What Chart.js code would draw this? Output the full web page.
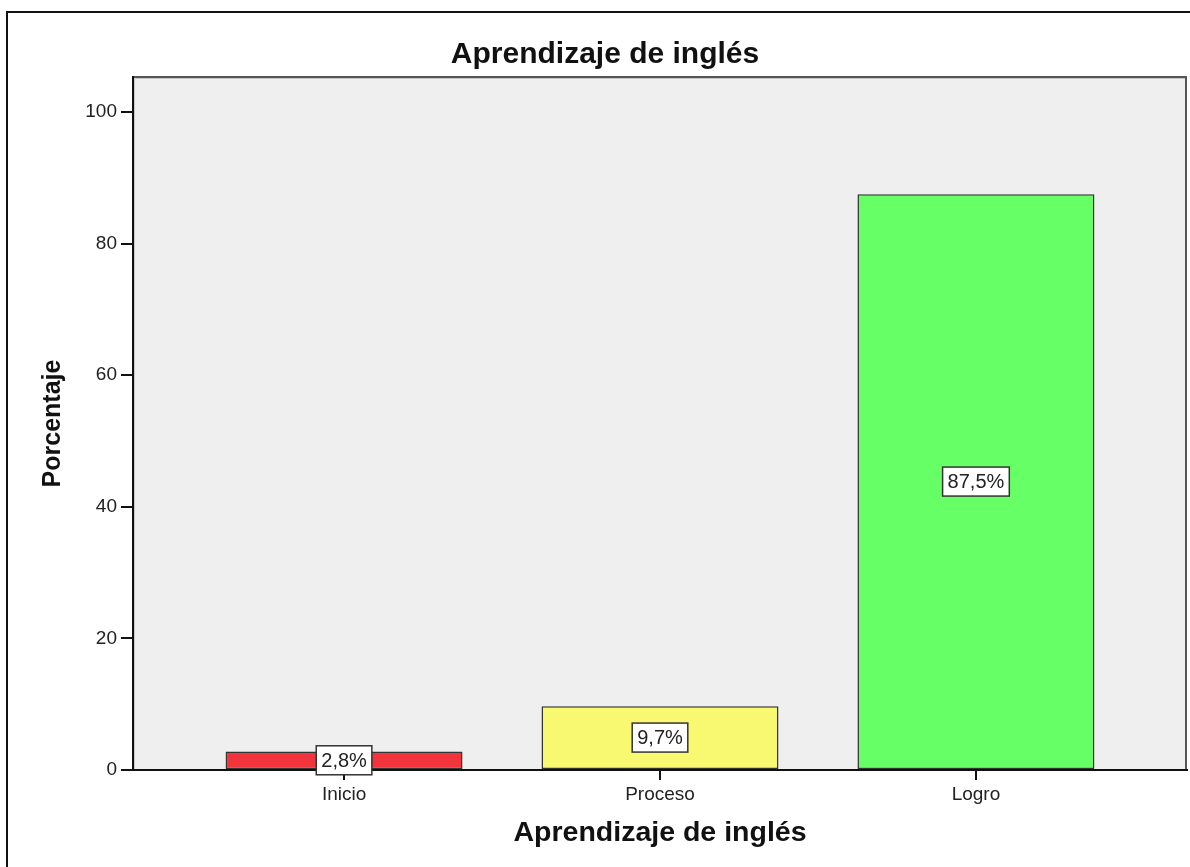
<!DOCTYPE html>
<html>
<head>
<meta charset="utf-8">
<title>Aprendizaje de inglés</title>
<script src="https://cdn.jsdelivr.net/npm/chart.js@4/dist/chart.umd.min.js"></script>
<style>
  html, body { margin: 0; padding: 0; background: #fff; }
  #wrap { position: relative; width: 1190px; height: 867px; }
</style>
</head>
<body>
<div id="wrap"><canvas id="chart" width="1190" height="867"></canvas></div>
<script>
// data
const categories = ['Inicio', 'Proceso', 'Logro'];
const percentages = [2.8, 9.7, 87.5];
const barColors = ['#f2353c', '#f9f871', '#66ff66'];
const yTicks = [0, 20, 40, 60, 80, 100];
const chartTitle = 'Aprendizaje de inglés';
const xTitle = 'Aprendizaje de inglés';
const yTitle = 'Porcentaje';

const FONT = "'Liberation Sans', Arial, sans-serif";

// outer frame, plot background, title
const framePlugin = {
  id: 'frame',
  beforeDraw(chart) {
    const {ctx, chartArea: a} = chart;
    ctx.save();
    ctx.fillStyle = '#fff';
    ctx.fillRect(0, 0, chart.width, chart.height);
    // outer border (only left + top visible in the crop)
    ctx.strokeStyle = '#111';
    ctx.lineWidth = 2;
    ctx.beginPath();
    ctx.moveTo(7, chart.height);
    ctx.lineTo(7, 12);
    ctx.lineTo(chart.width, 12);
    ctx.stroke();
    // plot area
    ctx.fillStyle = '#efefef';
    ctx.fillRect(a.left, a.top, a.right - a.left, a.bottom - a.top);
    ctx.strokeStyle = '#c8c8c8';
    ctx.lineWidth = 1;
    ctx.strokeRect(a.left + 1.5, a.top + 1.5, a.right - a.left - 2, a.bottom - a.top - 2);
    ctx.strokeStyle = '#555';
    ctx.lineWidth = 2;
    ctx.strokeRect(a.left, a.top, a.right - a.left - 1, a.bottom - a.top);
    // title
    ctx.fillStyle = '#111';
    ctx.font = 'bold 30px ' + FONT;
    ctx.textAlign = 'center';
    ctx.textBaseline = 'middle';
    ctx.fillText(chartTitle, 605, 55);
    ctx.restore();
  }
};

// boxed percentage labels in the middle of each bar
const boxLabels = {
  id: 'boxLabels',
  afterDatasetsDraw(chart) {
    const {ctx} = chart;
    const meta = chart.getDatasetMeta(0);
    ctx.save();
    ctx.font = '20px ' + FONT;
    ctx.textAlign = 'center';
    ctx.textBaseline = 'middle';
    meta.data.forEach((bar, i) => {
      const txt = percentages[i].toFixed(1).replace('.', ',') + '%';
      const cx = bar.x;
      const cy = (bar.y + bar.base) / 2;
      const w = ctx.measureText(txt).width + 10;
      const h = 29;
      ctx.fillStyle = '#fff';
      ctx.fillRect(cx - w / 2, cy - h / 2, w, h);
      ctx.strokeStyle = '#333';
      ctx.lineWidth = 1.5;
      ctx.strokeRect(cx - w / 2, cy - h / 2, w, h);
      ctx.fillStyle = '#222';
      ctx.fillText(txt, cx, cy + 1);
    });
    ctx.restore();
  }
};

new Chart(document.getElementById('chart'), {
  type: 'bar',
  data: {
    datasets: [{
      data: percentages.map((v, i) => ({x: i + 1, y: v})),
      backgroundColor: barColors,
      borderColor: '#333',
      borderWidth: 1.5,
      borderSkipped: false,
      categoryPercentage: 1,
      barPercentage: 0.75
    }]
  },
  options: {
    responsive: false,
    animation: false,
    layout: { padding: { top: 77, right: 3, left: 0, bottom: 0 } },
    plugins: {
      legend: { display: false },
      tooltip: { enabled: false }
    },
    scales: {
      x: {
        type: 'linear',
        offset: false,
        min: 0.332,
        max: 3.668,
        afterBuildTicks: s => { s.ticks = categories.map((c, i) => ({value: i + 1})); },
        afterFit: s => { s.height = 97; },
        border: { color: '#111', width: 2 },
        grid: { offset: false, drawOnChartArea: false, color: '#111', lineWidth: 2, tickLength: 10 },
        ticks: {
          color: '#222',
          font: { family: FONT, size: 19 },
          padding: 3,
          maxRotation: 0,
          callback: v => categories[Math.round(v) - 1] || ''
        },
        title: {
          display: true,
          text: xTitle,
          color: '#111',
          font: { family: FONT, size: 28.5, weight: 'bold' },
          padding: { top: 0, bottom: 17 }
        }
      },
      y: {
        min: 0,
        max: 105.3,
        afterBuildTicks: s => { s.ticks = yTicks.map(v => ({value: v})); },
        afterFit: s => { s.width = 133; },
        border: { color: '#111', width: 2 },
        grid: { drawOnChartArea: false, color: '#111', lineWidth: 2, tickLength: 12 },
        ticks: {
          color: '#222',
          font: { family: FONT, size: 19 },
          padding: 4
        },
        title: {
          display: true,
          text: yTitle,
          color: '#111',
          font: { family: FONT, size: 25, weight: 'bold' },
          padding: { top: 38, bottom: 0 }
        }
      }
    }
  },
  plugins: [framePlugin, boxLabels]
});
</script>
</body>
</html>
